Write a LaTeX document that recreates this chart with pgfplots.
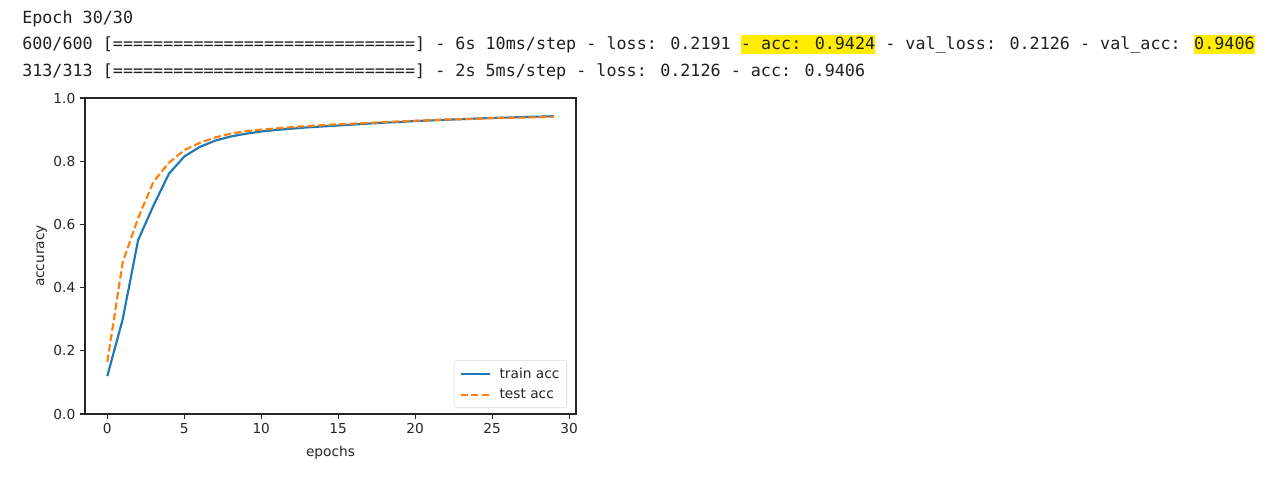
\documentclass[border=0pt]{standalone}
\usepackage{fontspec}
\setmainfont{DejaVu Sans}
\newfontfamily\consolefont{DejaVu Sans Mono}
\usepackage{pgfplots}
\pgfplotsset{compat=1.18}
\definecolor{mplblue}{HTML}{1F77B4}
\definecolor{mplorange}{HTML}{FF7F0E}
\definecolor{hl}{RGB}{255,236,0}
\definecolor{consoletext}{HTML}{202020}
\newcommand{\hlbox}[1]{{\setlength{\fboxsep}{0pt}\colorbox{hl}{\rule[-4pt]{0pt}{14.5pt}#1}}}
\begin{document}
\begin{tikzpicture}
\fill[white] (0,0) rectangle (960pt,360pt);
\path[use as bounding box] (0,0) rectangle (960pt,360pt);
\begin{scope}[every node/.style={anchor=base west, inner sep=0pt, font=\consolefont\fontsize{12.55}{15}\selectfont, text=consoletext}]
\node at (16.5pt,342.75pt) {Epoch 30/30};
\node at (16.5pt,323.25pt) {600/600 [==============================] - 6s 10ms/step - loss: 0.2191 \hlbox{- acc: 0.9424} - val\_loss: 0.2126 - val\_acc: \hlbox{0.9406}};
\node at (16.5pt,303pt) {313/313 [==============================] - 2s 5ms/step - loss: 0.2126 - acc: 0.9406};
\end{scope}
\begin{axis}[
  at={(63.75pt,49.5pt)}, anchor=south west, scale only axis,
  width=368.25pt, height=237pt,
  xmin=-1.45, xmax=30.45, ymin=0, ymax=1,
  xtick={0,5,10,15,20,25,30},
  ytick={0,0.2,0.4,0.6,0.8,1.0},
  yticklabel style={/pgf/number format/.cd, fixed, fixed zerofill, precision=1},
  /pgf/number format/assume math mode=true,
  tick align=outside, tick pos=left,
  major tick length=3.75pt,
  axis line style={line width=0.8pt, black!85},
  every tick/.style={line width=0.8pt, black!85},
  tick label style={font=\fontsize{10.3}{12}\selectfont, text=black!85},
  xlabel={epochs}, ylabel={accuracy},
  label style={font=\fontsize{10.3}{12}\selectfont, text=black!85},
  xlabel style={yshift=-2pt},
  ylabel style={yshift=-2pt},
  legend cell align=left,
  legend style={at={(1,0)}, anchor=south east, xshift=-6.75pt, yshift=4.5pt,
    draw=black!15, rounded corners=2.5pt, font=\fontsize{10.3}{12}\selectfont,
    inner xsep=4pt, inner ysep=4pt, row sep=3.5pt,
    nodes={inner sep=1.5pt, text=black!85},
    /tikz/every odd column/.style={column sep=5pt}},
  legend image code/.code={\draw[#1] (0cm,0cm) -- (0.77cm,0cm);},
]
\addplot[mplblue, line width=1.6pt] coordinates {
(0,0.12) (1,0.30) (2,0.55) (3,0.66) (4,0.76) (5,0.815) (6,0.845) (7,0.865) (8,0.878) (9,0.887)
(10,0.894) (11,0.899) (12,0.903) (13,0.907) (14,0.910) (15,0.913) (16,0.916) (17,0.919) (18,0.922) (19,0.924)
(20,0.927) (21,0.929) (22,0.931) (23,0.933) (24,0.935) (25,0.937) (26,0.938) (27,0.940) (28,0.941) (29,0.9424)};
\addlegendentry{train acc}
\addplot[mplorange, line width=1.6pt, dash pattern=on 5.5pt off 2.4pt] coordinates {
(0,0.165) (1,0.48) (2,0.62) (3,0.735) (4,0.795) (5,0.835) (6,0.858) (7,0.875) (8,0.887) (9,0.895)
(10,0.900) (11,0.904) (12,0.908) (13,0.911) (14,0.914) (15,0.917) (16,0.919) (17,0.921) (18,0.924) (19,0.926)
(20,0.928) (21,0.930) (22,0.932) (23,0.933) (24,0.934) (25,0.936) (26,0.937) (27,0.938) (28,0.939) (29,0.9406)};
\addlegendentry{test acc}
\end{axis}
\end{tikzpicture}
\end{document}
